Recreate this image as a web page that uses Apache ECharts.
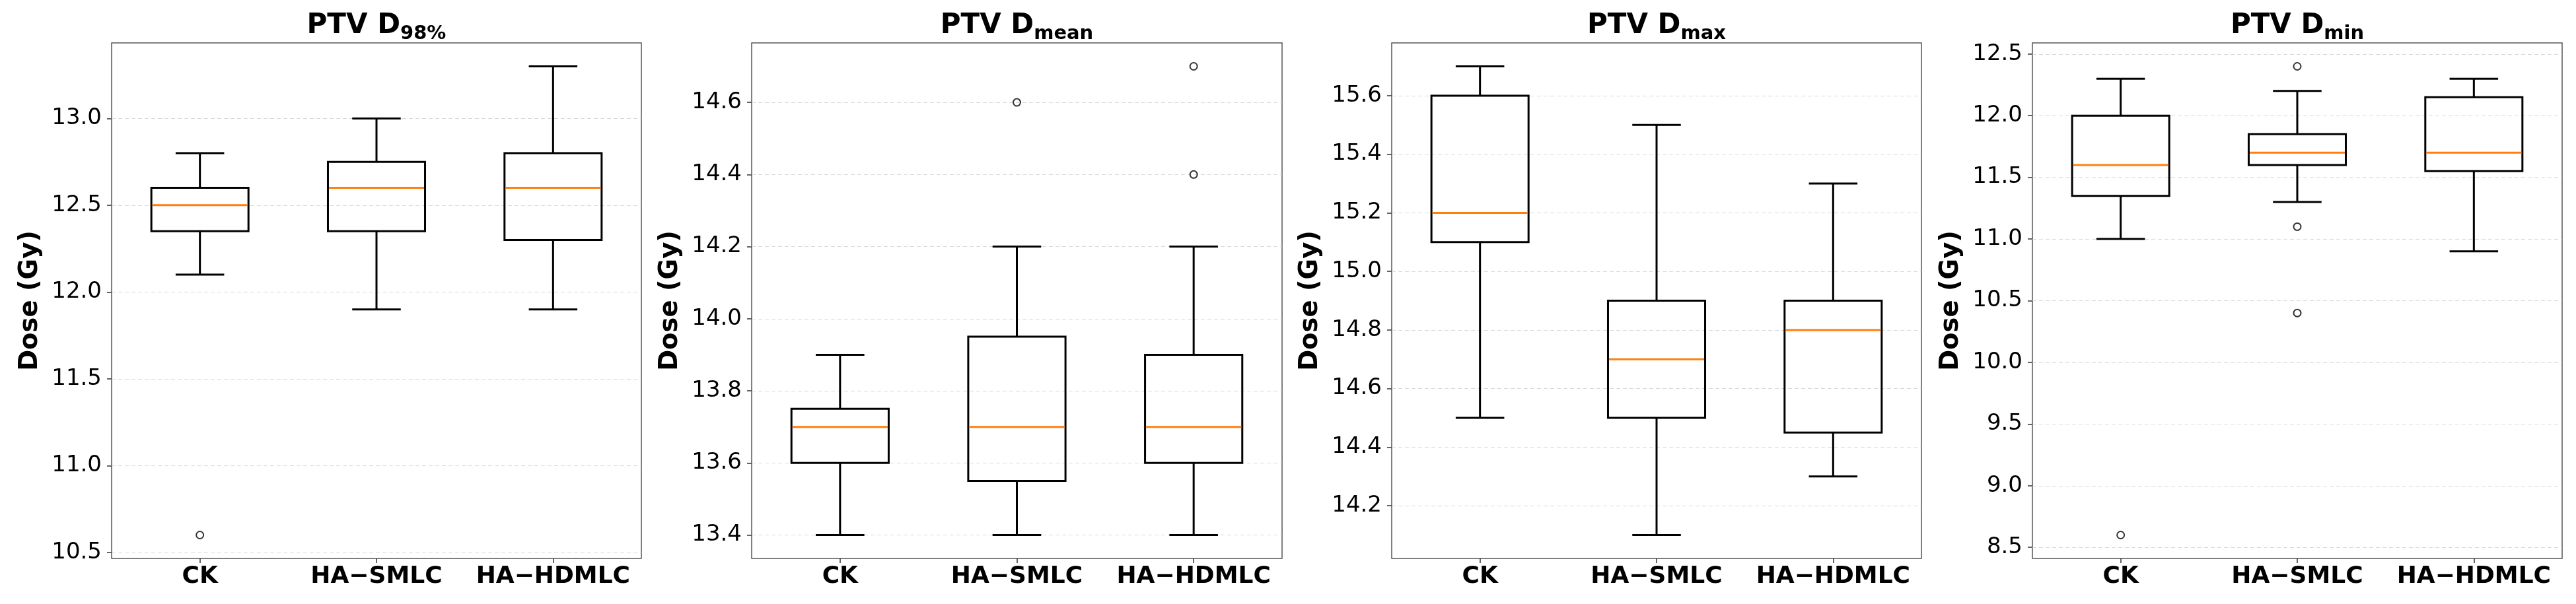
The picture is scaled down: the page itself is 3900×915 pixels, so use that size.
<!DOCTYPE html>
<html>
<head>
<meta charset="utf-8">
<script src="https://cdn.jsdelivr.net/npm/echarts@6/dist/echarts.min.js"></script>
<style>
  html, body { margin: 0; padding: 0; background: #fff; }
  #chart { width: 3900px; height: 915px; }
</style>
</head>
<body>
<div id="chart"></div>
<script>
const categories = ['CK', 'HA\u2212SMLC', 'HA\u2212HDMLC'];

// each box: [low whisker, Q1, median, Q3, high whisker]
const d98Boxes = [[12.1, 12.35, 12.5, 12.6, 12.8], [11.9, 12.35, 12.6, 12.75, 13.0], [11.9, 12.3, 12.6, 12.8, 13.3]];
const d98Outliers = [[0, 10.6]];
const d98Ticks = [10.5, 11.0, 11.5, 12.0, 12.5, 13.0];

const meanBoxes = [[13.4, 13.6, 13.7, 13.75, 13.9], [13.4, 13.55, 13.7, 13.95, 14.2], [13.4, 13.6, 13.7, 13.9, 14.2]];
const meanOutliers = [[1, 14.6], [2, 14.4], [2, 14.7]];
const meanTicks = [13.4, 13.6, 13.8, 14.0, 14.2, 14.4, 14.6];

const maxBoxes = [[14.5, 15.1, 15.2, 15.6, 15.7], [14.1, 14.5, 14.7, 14.9, 15.5], [14.3, 14.45, 14.8, 14.9, 15.3]];
const maxOutliers = [];
const maxTicks = [14.2, 14.4, 14.6, 14.8, 15.0, 15.2, 15.4, 15.6];

const minBoxes = [[11.0, 11.35, 11.6, 12.0, 12.3], [11.3, 11.6, 11.7, 11.85, 12.2], [10.9, 11.55, 11.7, 12.15, 12.3]];
const minOutliers = [[0, 8.6], [1, 12.4], [1, 11.1], [1, 10.4]];
const minTicks = [8.5, 9.0, 9.5, 10.0, 10.5, 11.0, 11.5, 12.0, 12.5];

const panels = [
  { sub: '98%', boxes: d98Boxes, outliers: d98Outliers, ticks: d98Ticks, left: 169, width: 802 },
  { sub: 'mean', boxes: meanBoxes, outliers: meanOutliers, ticks: meanTicks, left: 1138, width: 803 },
  { sub: 'max', boxes: maxBoxes, outliers: maxOutliers, ticks: maxTicks, left: 2107, width: 802 },
  { sub: 'min', boxes: minBoxes, outliers: minOutliers, ticks: minTicks, left: 3077, width: 802 }
];

const FONT = 'DejaVu Sans';
const TOP = 65;
const HEIGHT = 781;

function renderBox(params, api) {
  const x = api.value(0);
  const cx = api.coord([x, api.value(1)])[0];
  const yLow = api.coord([x, api.value(1)])[1];
  const yQ1 = api.coord([x, api.value(2)])[1];
  const yMed = api.coord([x, api.value(3)])[1];
  const yQ3 = api.coord([x, api.value(4)])[1];
  const yHigh = api.coord([x, api.value(5)])[1];
  const bw = api.size([1, 0])[0] * 0.55;
  const cw = bw / 2;
  const black = { stroke: '#000', lineWidth: 3 };
  return {
    type: 'group',
    children: [
      { type: 'line', shape: { x1: cx, y1: yLow, x2: cx, y2: yQ1 }, style: black },
      { type: 'line', shape: { x1: cx, y1: yQ3, x2: cx, y2: yHigh }, style: black },
      { type: 'line', shape: { x1: cx - cw / 2, y1: yLow, x2: cx + cw / 2, y2: yLow }, style: black },
      { type: 'line', shape: { x1: cx - cw / 2, y1: yHigh, x2: cx + cw / 2, y2: yHigh }, style: black },
      { type: 'rect', shape: { x: cx - bw / 2, y: yQ3, width: bw, height: yQ1 - yQ3 },
        style: { fill: 'none', stroke: '#000', lineWidth: 3 } },
      { type: 'line', shape: { x1: cx - bw / 2 + 1.5, y1: yMed, x2: cx + bw / 2 - 1.5, y2: yMed },
        style: { stroke: '#ff7f0e', lineWidth: 3 } }
    ]
  };
}

const chart = echarts.init(document.getElementById('chart'), null, { renderer: 'canvas' });

const option = {
  backgroundColor: '#fff',
  animation: false,
  title: [],
  grid: [],
  xAxis: [],
  yAxis: [],
  series: []
};

panels.forEach((p, i) => {
  const values = p.boxes.flat().concat(p.outliers.map((o) => o[1]));
  const lo = Math.min(...values);
  const hi = Math.max(...values);
  const pad = (hi - lo) * 0.05;

  option.title.push({
    text: '{a|PTV D}{b|' + p.sub + '}',
    left: p.left + p.width / 2,
    top: 12,
    textAlign: 'center',
    padding: 0,
    textStyle: {
      rich: {
        a: { fontFamily: FONT, fontWeight: 'bold', fontSize: 42, color: '#000', lineHeight: 54 },
        b: { fontFamily: FONT, fontWeight: 'bold', fontSize: 29, color: '#000', lineHeight: 29, verticalAlign: 'bottom' }
      }
    }
  });

  option.grid.push({
    left: p.left,
    top: TOP,
    width: p.width,
    height: HEIGHT,
    show: true,
    borderColor: '#555',
    borderWidth: 1.5,
    backgroundColor: 'transparent'
  });

  option.xAxis.push({
    type: 'category',
    gridIndex: i,
    data: categories,
    boundaryGap: true,
    axisLine: { show: false },
    axisTick: { show: true, alignWithLabel: true, length: 7, lineStyle: { color: '#333', width: 1.5 } },
    axisLabel: { interval: 0, fontFamily: FONT, fontWeight: 'bold', fontSize: 36, color: '#000', margin: 10 },
    splitLine: { show: false }
  });

  option.yAxis.push({
    type: 'value',
    gridIndex: i,
    min: lo - pad,
    max: hi + pad,
    name: 'Dose (Gy)',
    nameLocation: 'middle',
    nameGap: 104,
    nameRotate: 90,
    nameTextStyle: { fontFamily: FONT, fontWeight: 'bold', fontSize: 38.5, color: '#000' },
    axisLine: { show: false },
    axisTick: { show: true, length: 7, customValues: p.ticks, lineStyle: { color: '#333', width: 1.5 } },
    axisLabel: {
      fontFamily: FONT, fontSize: 34, color: '#000', margin: 15,
      customValues: p.ticks,
      formatter: (v) => v.toFixed(1)
    },
    splitLine: { show: true, lineStyle: { color: '#d9d9d9', width: 1.2, type: [6, 4] } }
  });

  option.series.push({
    type: 'custom',
    xAxisIndex: i,
    yAxisIndex: i,
    renderItem: renderBox,
    encode: { x: 0, y: [1, 2, 3, 4, 5] },
    data: p.boxes.map((b, k) => [k].concat(b)),
    z: 3
  });

  option.series.push({
    type: 'scatter',
    xAxisIndex: i,
    yAxisIndex: i,
    symbol: 'circle',
    symbolSize: 11,
    itemStyle: { color: 'rgba(0,0,0,0)', borderColor: '#000', borderWidth: 2 },
    data: p.outliers,
    z: 4
  });
});

chart.setOption(option);
</script>
</body>
</html>
